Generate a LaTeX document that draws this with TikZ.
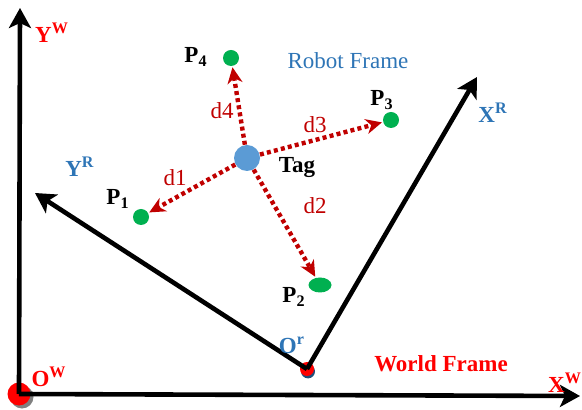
\documentclass[tikz,border=0pt]{standalone}
\usepackage{fontspec}
\setmainfont{Liberation Serif}
\usetikzlibrary{arrows.meta,positioning,shapes.geometric,shadows}
\definecolor{wred}{HTML}{FF0000}
\definecolor{rblue}{HTML}{2E75B6}
\definecolor{tagblue}{HTML}{5B9BD5}
\definecolor{ptgreen}{HTML}{00B050}
\definecolor{dred}{HTML}{C00000}
\definecolor{navy}{HTML}{1F4E79}

\begin{document}
\begin{tikzpicture}[x=0.5pt, y=-0.5pt,
      every node/.style={font=\fontsize{11.5}{13}\selectfont},
      axis/.style={line width=2.3pt, -{Stealth[length=10pt,width=11pt,inset=2.5pt]}},
      dist/.style={dred, line width=2.2pt, dash pattern=on 2pt off 1.6pt, shorten >=0.5pt,
        -{Stealth[length=8pt,width=7.5pt,inset=2.5pt]}},
      pt/.style={circle, fill=ptgreen, inner sep=0pt, minimum size=8pt},
      wlbl/.style={text=wred, font=\fontsize{11.5}{13}\selectfont\bfseries},
      rlbl/.style={text=rblue, font=\fontsize{11.5}{13}\selectfont\bfseries},
      plbl/.style={font=\fontsize{11.5}{13}\selectfont\bfseries},
      dlbl/.style={text=dred}]
    \useasboundingbox (0,0) rectangle (582,410);
    % world frame
    \node[circle, fill=wred, inner sep=0pt, minimum size=11.5pt,
      drop shadow={shadow xshift=1.5pt, shadow yshift=-1.5pt, fill=gray, opacity=1}] (ow) at (19,394) {};
    \coordinate (yw) at (20,8);
    \coordinate (xw) at (580,396);
    \draw[axis] (ow.center) -- (yw);
    \draw[axis] (ow.center) -- (xw);
    \node[wlbl] (ywl) at (52,33) {Y\textsuperscript{W}};
    \node[wlbl] (owl) at (49,377) {O\textsuperscript{W}};
    \node[wlbl] (xwl) at (565,383) {X\textsuperscript{W}};
    \node[wlbl] (wf) at (441,364) {World Frame};
    % robot frame
    \node[circle, fill=wred, inner sep=0pt, minimum size=7pt,
      drop shadow={shadow xshift=0.5pt, shadow yshift=-1.2pt, fill=navy, opacity=1}] (or) at (307,369) {};
    \coordinate (xr) at (477,77);
    \coordinate (yr) at (35,193);
    \draw[axis] (or.center) -- (xr);
    \draw[axis] (or.center) -- (yr);
    \node[rlbl] (orl) at (292,345) {O\textsuperscript{r}};
    \node[rlbl] (xrl) at (493,113) {X\textsuperscript{R}};
    \node[rlbl] (yrl) at (80,167) {Y\textsuperscript{R}};
    \node[text=rblue] (rf) at (348,61) {Robot Frame};
    % tag and points
    \node[circle, fill=tagblue, inner sep=0pt, minimum size=13pt] (tag) at (247,158) {};
    \node[plbl] (tagl) at (297,168) {Tag};
    \node[pt] (p1) at (141,217) {};
    \node[pt, ellipse, minimum width=11.5pt, minimum height=7.5pt] (p2) at (320,285) {};
    \node[pt] (p3) at (391,120) {};
    \node[pt] (p4) at (231,58) {};
    \node[plbl] (p1l) at (118,199) {P\textsubscript{1}};
    \node[plbl] (p2l) at (294,297) {P\textsubscript{2}};
    \node[plbl] (p3l) at (382,100) {P\textsubscript{3}};
    \node[plbl] (p4l) at (196,57) {P\textsubscript{4}};
    \draw[dist] (tag) -- (p1);
    \draw[dist] (tag) -- (p2);
    \draw[dist] (tag) -- (p3);
    \draw[dist] (tag) -- (p4);
    \node[dlbl] (d1) at (175,178) {d1};
    \node[dlbl] (d2) at (315,206) {d2};
    \node[dlbl] (d3) at (315,125) {d3};
    \node[dlbl] (d4) at (222,111) {d4};
  \end{tikzpicture}
\end{document}
